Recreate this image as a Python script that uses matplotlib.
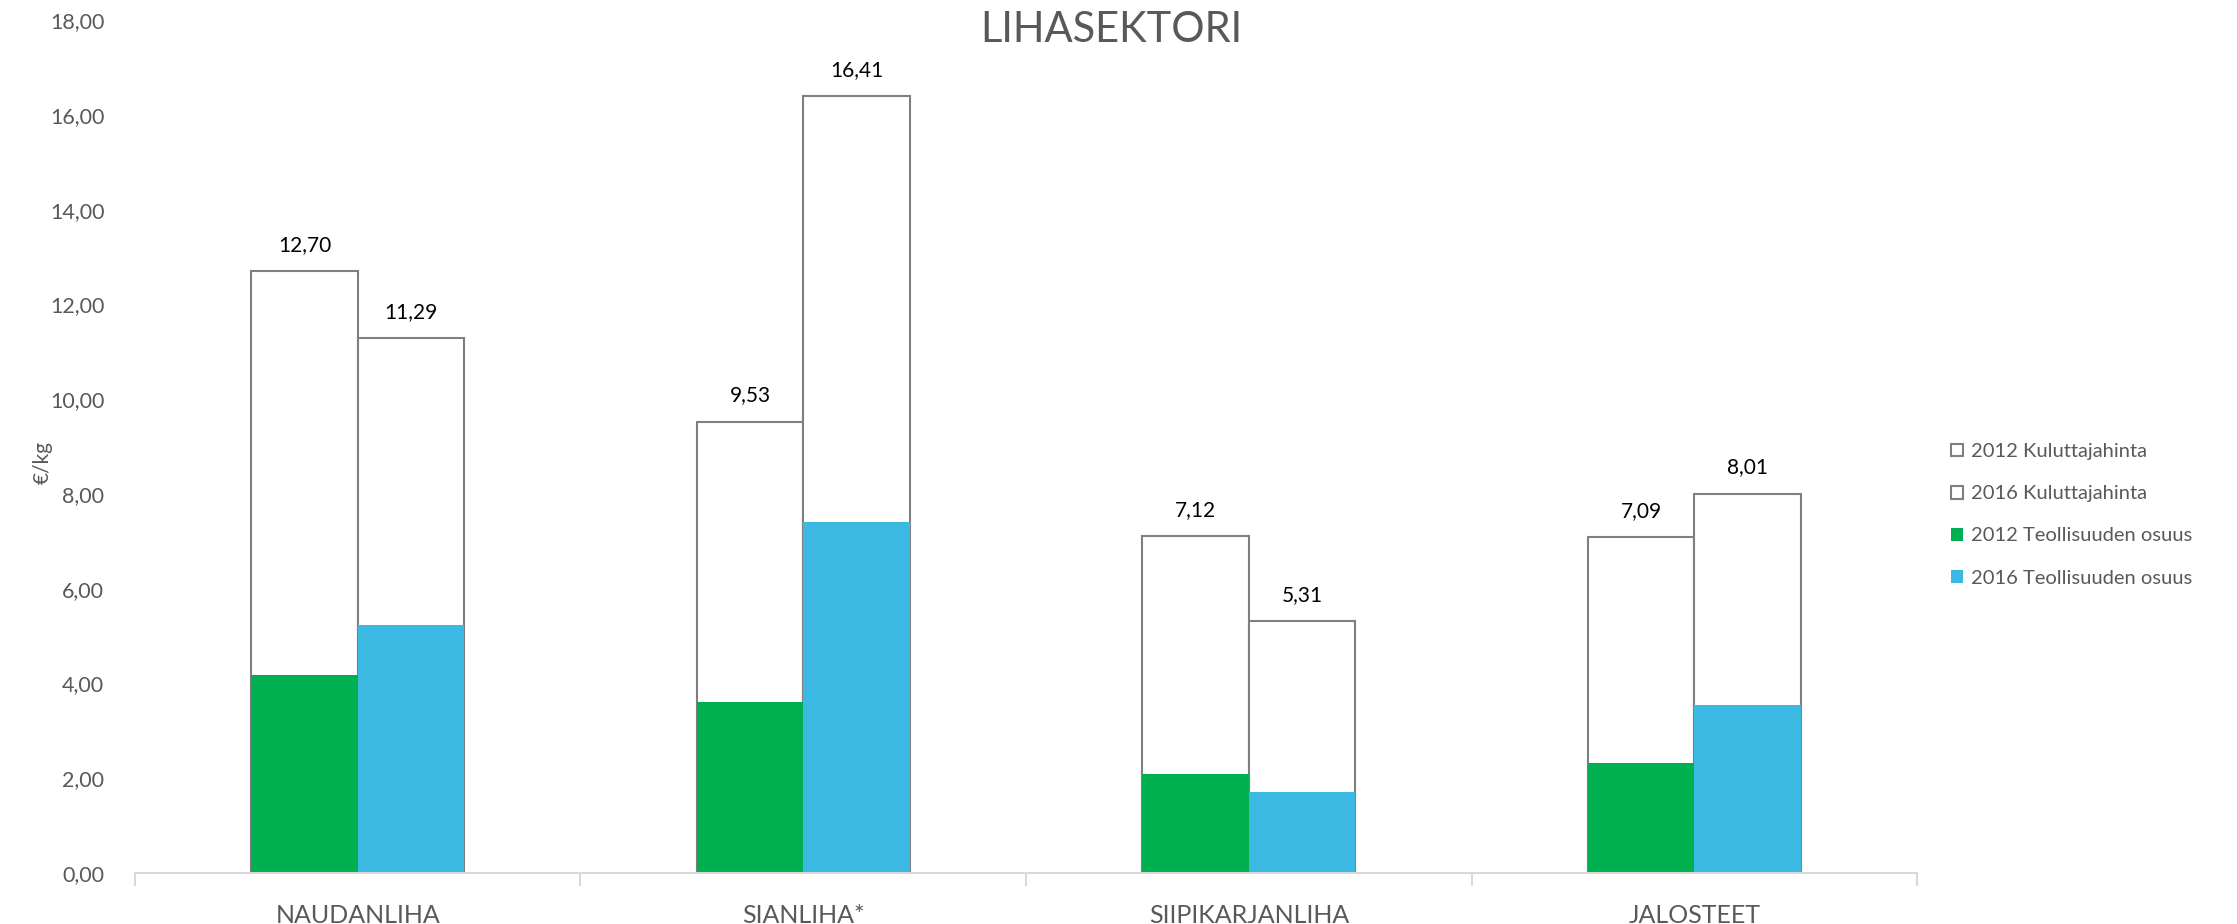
import numpy as np
import matplotlib.pyplot as plt

plt.rcParams['font.family'] = ['Lato', 'DejaVu Sans']

categories = ['NAUDANLIHA', 'SIANLIHA*', 'SIIPIKARJANLIHA', 'JALOSTEET']
price_2012 = [12.70, 9.53, 7.12, 7.09]
price_2016 = [11.29, 16.41, 5.31, 8.01]
industry_2012 = [4.17, 3.62, 2.10, 2.32]
industry_2016 = [5.24, 7.40, 1.72, 3.54]

text_col = '#595959'
edge_col = '#7F7F7F'
green = '#00B050'
blue = '#3CB9E2'

fig = plt.figure(figsize=(22.37, 9.24), dpi=100)
ax = fig.add_axes([0.0603, 0.0552, 0.7967, 0.9228])

x = np.arange(len(categories))
w = 0.239

# consumer price (white boxes)
b1 = ax.bar(x - w / 2, price_2012, w, color='white', edgecolor=edge_col, linewidth=1.5, zorder=2,
            label='2012 Kuluttajahinta')
b2 = ax.bar(x + w / 2, price_2016, w, color='white', edgecolor=edge_col, linewidth=1.5, zorder=2,
            label='2016 Kuluttajahinta')
# industry share on top
ax.bar(x - w / 2, industry_2012, w, color=green, linewidth=0, zorder=3, label='2012 Teollisuuden osuus')
ax.bar(x + w / 2, industry_2016, w, color=blue, linewidth=0, zorder=3, label='2016 Teollisuuden osuus')

for bars, vals in ((b1, price_2012), (b2, price_2016)):
    for r, v in zip(bars, vals):
        ax.annotate(f'{v:.2f}'.replace('.', ','), (r.get_x() + r.get_width() / 2, v),
                    xytext=(0, 26), textcoords='offset pixels', ha='center', va='center',
                    fontsize=15, color='black')

ax.set_xlim(-0.5, len(categories) - 0.5)
ax.set_ylim(0, 18)
ax.set_yticks(np.arange(0, 19, 2))
ax.set_yticklabels([f'{v:.2f}'.replace('.', ',') for v in np.arange(0, 19, 2)])
ax.set_xticks(x)
ax.set_xticklabels(categories)
ax.set_xticks(np.arange(-0.5, len(categories), 1), minor=True)
ax.tick_params(axis='x', which='major', length=0, pad=22, labelsize=18, labelcolor=text_col)
ax.tick_params(axis='x', which='minor', length=9, width=1.5, color='#D9D9D9', direction='out')
ax.tick_params(axis='y', length=0, pad=22, labelsize=15.5, labelcolor=text_col)

for s in ('top', 'right', 'left'):
    ax.spines[s].set_visible(False)
ax.spines['bottom'].set_color('#D9D9D9')
ax.spines['bottom'].set_linewidth(1.5)
ax.spines['bottom'].set_zorder(4)

fig.text(0.019, 0.5, '€/kg', rotation=90, ha='center', va='center', fontsize=15, color=text_col)
fig.text(0.497, 0.968, 'LIHASEKTORI', ha='center', va='center', fontsize=30, color=text_col)

leg = ax.legend(loc='center left', bbox_to_anchor=(1.009, 0.42), frameon=False, fontsize=14.5,
                handlelength=0.6, handleheight=0.6, handletextpad=0.4, labelspacing=1.25)
for t in leg.get_texts():
    t.set_color(text_col)

fig.savefig('out.png', dpi=100)
